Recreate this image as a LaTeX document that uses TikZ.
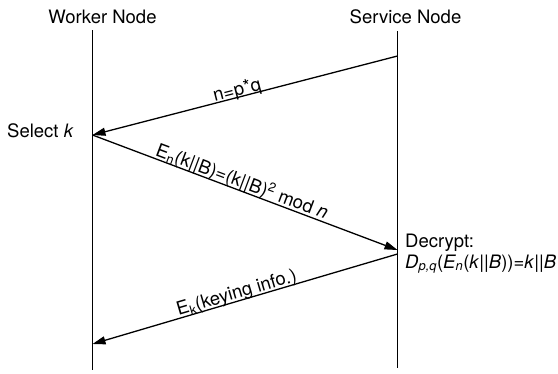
\documentclass[tikz,border=0pt]{standalone}
\usepackage{fontspec}
\setmainfont{TeX Gyre Heros}
\usetikzlibrary{arrows.meta}

\tikzset{
  lifeline/.style={line width=1.3pt},
  msg/.style={line width=1.3pt, -{Triangle[length=13pt,width=8pt]}},
  header/.style={anchor=base, inner sep=0pt},
  note/.style={anchor=base west, inner sep=0pt},
  msglabel/.style={sloped, anchor=base, inner sep=0pt},
}

\begin{document}
\begin{tikzpicture}[x=1pt, y=-1pt, font=\fontsize{18.5}{22}\selectfont]
  \useasboundingbox (0,0) rectangle (558,373);

  % column headers
  \node[header] (worker)  at (102.5,23) {Worker Node};
  \node[header] (service) at (405.5,23) {Service Node};

  % lifelines
  \coordinate (wtop) at (92.5,30);
  \coordinate (wbot) at (92.5,370);
  \coordinate (stop) at (397.5,31);
  \coordinate (sbot) at (397.5,368);
  \draw[lifeline] (wtop) -- (wbot);
  \draw[lifeline] (stop) -- (sbot);

  % message end points on the lifelines
  \coordinate (s1) at (397.5,56);
  \coordinate (w1) at (92.5,135);
  \coordinate (s2) at (397.5,250);
  \coordinate (s3) at (397.5,254);
  \coordinate (w3) at (92.5,344);

  % messages
  \draw[msg] (s1) -- node[msglabel, pos=0.52] {\raisebox{1.5pt}{n=p*q}} (w1);
  \draw[msg] (w1) -- node[msglabel, pos=0.48]
    {\raisebox{3pt}{E\textsubscript{n}(k||B)=(k||B)\textsuperscript{2} mod \textit{n}}} (s2);
  \draw[msg] (s3) -- node[msglabel, pos=0.52]
    {\raisebox{2.5pt}{E\textsubscript{k}(keying info.)}} (w3);

  % local actions
  \node[note] (select)  at (7,137)   {Select \textit{k}};
  \node[note] (decrypt) at (405,247) {Decrypt:};
  \node[note] (result)  at (405,268)
    {\textit{D\textsubscript{p,q}}(\textit{E\textsubscript{n}}(\textit{k}||\textit{B}))=\textit{k}||\textit{B}};
\end{tikzpicture}
\end{document}
